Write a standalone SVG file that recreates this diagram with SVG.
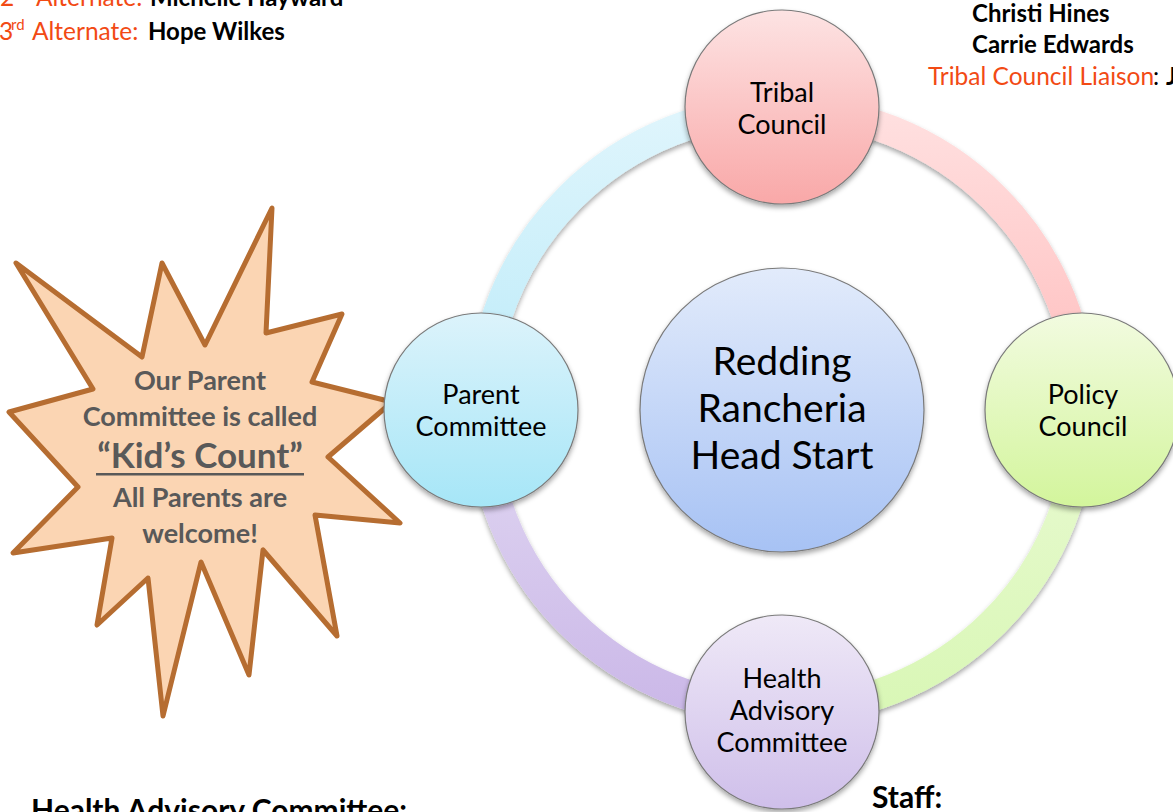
<svg xmlns="http://www.w3.org/2000/svg" width="1173" height="812" viewBox="0 0 1173 812">
<style>
.lbl{font-family:Lato,"Open Sans","Liberation Sans",sans-serif;font-size:27px;fill:#000;text-anchor:middle}
.big{font-size:39px}
.star{font-family:Lato,"Open Sans","Liberation Sans",sans-serif;font-weight:bold;font-size:27px;fill:#595959;text-anchor:middle}
.kc{font-size:35px}
.info{font-family:Lato,"Open Sans","Liberation Sans",sans-serif;font-size:24.5px}
.sup{font-size:15px}
.org{fill:#f24a14}
.bk{fill:#000;font-weight:bold;font-size:24px}
.head{font-family:Lato,"Open Sans","Liberation Sans",sans-serif;font-weight:bold;font-size:30px;fill:#000}
.node{stroke:#7a7a7a;stroke-width:1.2}
.arc{fill:none;stroke-width:30;filter:url(#sh)}
</style>
<defs>
<filter id="sh" x="-20%" y="-20%" width="140%" height="140%">
<feDropShadow dx="0" dy="3" stdDeviation="2.5" flood-color="#000" flood-opacity="0.35"/>
</filter>
<linearGradient id="gT" x1="0" y1="0" x2="0" y2="1"><stop offset="0" stop-color="#fde3e3"/><stop offset="1" stop-color="#f9a8a8"/></linearGradient>
<linearGradient id="gP" x1="0" y1="0" x2="0" y2="1"><stop offset="0" stop-color="#f2fbe0"/><stop offset="1" stop-color="#d3f59c"/></linearGradient>
<linearGradient id="gH" x1="0" y1="0" x2="0" y2="1"><stop offset="0" stop-color="#efe9f7"/><stop offset="1" stop-color="#cfbfea"/></linearGradient>
<linearGradient id="gC" x1="0" y1="0" x2="0" y2="1"><stop offset="0" stop-color="#dcf3fb"/><stop offset="1" stop-color="#a6e6f7"/></linearGradient>
<linearGradient id="gM" x1="0" y1="0" x2="0" y2="1"><stop offset="0" stop-color="#e2ebfb"/><stop offset="1" stop-color="#a7c2f4"/></linearGradient>
<linearGradient id="aPink" gradientUnits="userSpaceOnUse" x1="0" y1="110" x2="0" y2="410"><stop offset="0" stop-color="#ffe0e0"/><stop offset="1" stop-color="#ffbcbc"/></linearGradient>
<linearGradient id="aGreen" gradientUnits="userSpaceOnUse" x1="0" y1="410" x2="0" y2="710"><stop offset="0" stop-color="#e9fad2"/><stop offset="1" stop-color="#d9f7b6"/></linearGradient>
<linearGradient id="aPurp" gradientUnits="userSpaceOnUse" x1="0" y1="410" x2="0" y2="710"><stop offset="0" stop-color="#e1d8f2"/><stop offset="1" stop-color="#cbb8e8"/></linearGradient>
<linearGradient id="aCyan" gradientUnits="userSpaceOnUse" x1="0" y1="110" x2="0" y2="410"><stop offset="0" stop-color="#dff5fc"/><stop offset="1" stop-color="#bcebf9"/></linearGradient>
</defs>
<rect width="1173" height="812" fill="#fff"/>

<g id="info-top-left">
<text class="info" y="6"><tspan class="org" x="0">2</tspan><tspan class="org sup" x="12" dy="-10">nd</tspan><tspan class="org" x="36" dy="10">Alternate: </tspan><tspan class="bk" x="150">Michelle Hayward</tspan></text>
<text class="info" y="40"><tspan class="org" x="-1">3</tspan><tspan class="org sup" x="11" dy="-10">rd</tspan><tspan class="org" x="32" dy="10">Alternate: </tspan><tspan class="bk" x="148">Hope Wilkes</tspan></text>
</g>
<g id="info-top-right">
<text class="info bk" x="972" y="22">Christi Hines</text>
<text class="info bk" x="972" y="53">Carrie Edwards</text>
<text class="info" y="85"><tspan class="org" x="928">Tribal Council Liaison</tspan><tspan fill="#000" x="1153">:</tspan><tspan class="bk" x="1166">J</tspan></text>
</g>
<g id="info-bottom">
<text class="head" x="31" y="821">Health Advisory Committee:</text>
<text class="head" x="872" y="808">Staff:</text>
</g>

<g id="connectors">
<path class="arc" stroke="url(#aPink)" d="M782,110 A300,300 0 0 1 1082,410"/>
<path class="arc" stroke="url(#aGreen)" d="M1082,410 A300,300 0 0 1 782,710"/>
<path class="arc" stroke="url(#aPurp)" d="M782,710 A300,300 0 0 1 482,410"/>
<path class="arc" stroke="url(#aCyan)" d="M482,410 A300,300 0 0 1 782,110"/>
</g>

<g id="starburst">
<polygon points="272,208 266,333 342,314 312,382 392,402 328,457 400,523 315,515 337,636 263,550 249,675 201,562 163,716 148,578 97,625 112,538 13,553 78,487 9,412 93,389 16,263 142,357 162,263 205,345" fill="#fbd5b3" stroke="#b66d31" stroke-width="5" stroke-linejoin="round"/>
<text class="star" x="200" y="390">Our Parent</text>
<text class="star" x="200" y="426">Committee is called</text>
<text class="star kc" x="200" y="468">“Kid’s Count”</text>
<rect x="96" y="473" width="208" height="2.5" fill="#595959"/>
<text class="star" x="200" y="507">All Parents are</text>
<text class="star" x="200" y="543">welcome!</text>
</g>

<g id="center">
<circle class="node" cx="782" cy="410" r="142" fill="url(#gM)" filter="url(#sh)"/>
<text class="lbl big" x="782" y="375">Redding</text>
<text class="lbl big" x="782" y="422">Rancheria</text>
<text class="lbl big" x="782" y="469">Head Start</text>
</g>
<g id="tribal-council">
<circle class="node" cx="782" cy="107" r="97" fill="url(#gT)" filter="url(#sh)"/>
<text class="lbl" x="782" y="102">Tribal</text>
<text class="lbl" x="782" y="134">Council</text>
</g>
<g id="policy-council">
<circle class="node" cx="1082" cy="410" r="97" fill="url(#gP)" filter="url(#sh)"/>
<text class="lbl" x="1083" y="404">Policy</text>
<text class="lbl" x="1083" y="436">Council</text>
</g>
<g id="health-advisory">
<circle class="node" cx="782" cy="712" r="97" fill="url(#gH)" filter="url(#sh)"/>
<text class="lbl" x="782" y="688">Health</text>
<text class="lbl" x="782" y="720">Advisory</text>
<text class="lbl" x="782" y="752">Committee</text>
</g>
<g id="parent-committee">
<circle class="node" cx="481" cy="410" r="97" fill="url(#gC)" filter="url(#sh)"/>
<text class="lbl" x="481" y="404">Parent</text>
<text class="lbl" x="481" y="436">Committee</text>
</g>
</svg>
